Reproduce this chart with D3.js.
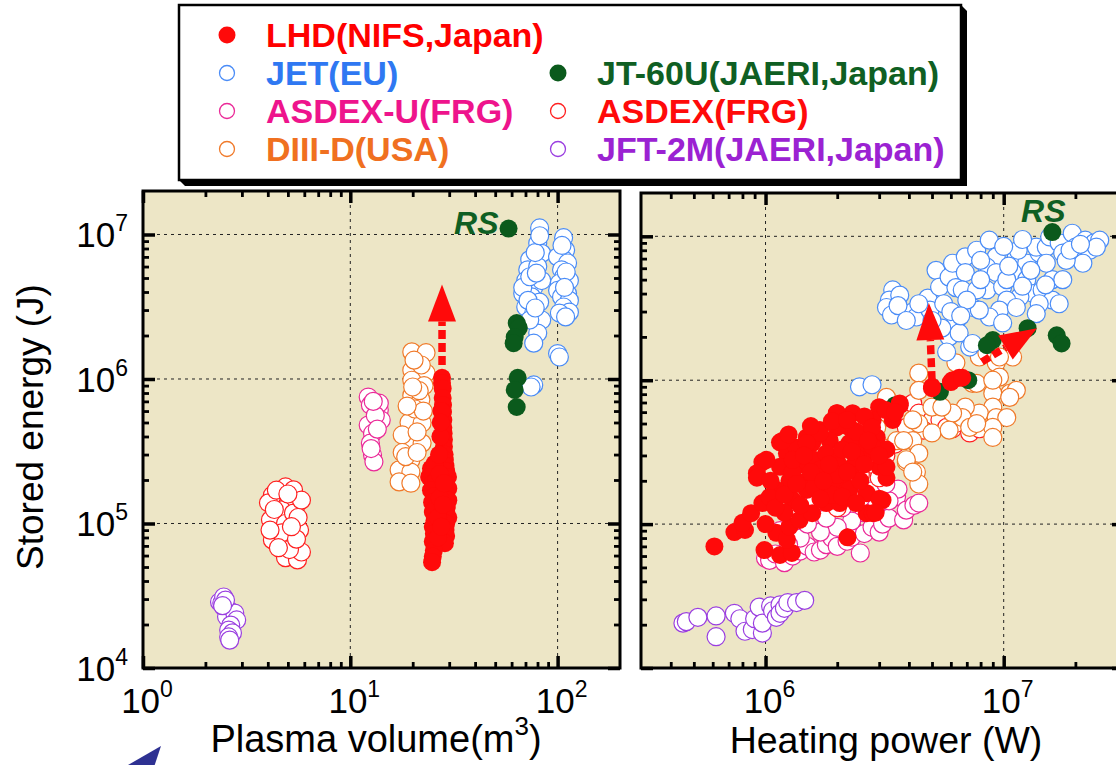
<!DOCTYPE html>
<html>
<head>
<meta charset="utf-8">
<script src="https://cdn.jsdelivr.net/npm/d3@7"></script>
<style>
  body { margin: 0; background: #fff; }
  svg { display: block; }
  text { font-family: "Liberation Sans", Arial, Helvetica, sans-serif; }
</style>
</head>
<body>
<svg id="chart" width="1116" height="765"></svg>
<script>
// ---------------- data ----------------
// Series names as listed in the legend
const seriesNames = ["LHD(NIFS,Japan)", "JET(EU)", "ASDEX-U(FRG)", "DIII-D(USA)",
                     "JT-60U(JAERI,Japan)", "ASDEX(FRG)", "JFT-2M(JAERI,Japan)"];

// Tick label exponents (powers of ten)
const volumeTickExp = [0, 1, 2];
const powerTickExp = [6, 7];
const energyTickExp = [4, 5, 6, 7];

// Plasma volume (m^3) vs stored energy (J)
const jft2mVol = [[2.34,2.86e4],[2.40,2.82e4],[2.45,3.1e4],[2.45,2.64e4],[2.59,2.52e4],[2.53,2.26e4],[2.77,2.4e4],
  [2.83,2.15e4],[2.65,1.98e4],[2.59,1.83e4],[2.70,1.75e4],[2.59,1.64e4],[2.62,1.56e4],[2.50,2.95e4],[2.42,2.7e4]];
const asdexVol = [[4.21,1.57e5],[4.87,1.79e5],[5.09,1.52e5],[5.44,1.3e5],[4.66,1.24e5],[4.12,1.06e5],[4.87,1.0e5],
  [5.32,1.18e5],[4.21,7.7e4],[5.2,7.3e4],[4.87,5.8e4],[5.56,5.6e4],[5.81,6.35e4],[5.69,9.0e4],[5.32,1.71e5],
  [4.03,1.39e5],[5.81,1.45e5],[4.66,8.6e4],[5.09,6.6e4],[4.4,1.7e5],[5.0,1.6e5],[4.1,9e4],[5.6,1.1e5],
  [4.5,6.8e4],[5.5,7.8e4],[4.3,1.25e5],[5.2,9.5e4]];
const asdexuVol = [[12.2,7.5e5],[12.5,6.6e5],[13.8,6.1e5],[12.2,4.8e5],[12.8,4.2e5],[12.5,3.6e5],[12.8,2.98e5],
  [13.0,2.67e5],[13.8,6.8e5],[14.1,5.2e5],[13.2,5.6e5],[12.6,3.3e5],[13.5,4.5e5],[12.9,7.0e5]];
const diiidVol = [[19.8,1.54e6],[23.2,1.52e6],[19.8,1.15e6],[23.2,1.1e6],[19.8,9.8e5],[22.7,9.0e5],[19.8,7.7e5],
  [21.9,7.2e5],[19.2,5.0e5],[22.2,4.96e5],[19.2,3.66e5],[22.2,3.6e5],[17.8,4.1e5],[17.8,3.1e5],[19.6,2.75e5],
  [17.2,2.35e5],[19.6,2.27e5],[17.2,1.94e5],[19.6,1.9e5],[21.5,8.3e5],[20.5,6.2e5],[22.5,6.0e5],[18.8,6.5e5],
  [21.0,4.3e5],[20.0,8.8e5],[22.0,1.25e6],[18.5,2.9e5],[21.0,3.1e5],[20.3,1.35e6]];
const jetVol = [[81.9,1.11e7],[80.2,8.7e6],[83.8,7.4e6],[73.4,6.7e6],[71.8,5.7e6],[80.2,6.0e6],[70.2,4.8e6],
  [76.7,4.3e6],[83.8,4.8e6],[67.9,3.9e6],[75.0,3.7e6],[70.2,3.15e6],[81.9,3.4e6],[76.7,2.86e6],[83.8,2.56e6],
  [80.2,2.08e6],[76.7,1.77e6],[73.4,2.56e6],[67.9,4.3e6],[73.4,5.1e6],[76.7,9.1e5],[74.5,8.8e5],[78,7.5e6],
  [79,5.4e6],[72,3.5e6],[78,3.1e6],[82,9.8e6],
  [106.9,9.5e6],[109.3,7.8e6],[106.9,6.7e6],[100,7.0e6],[111.7,6.35e6],[104.5,5.7e6],[106.9,5.1e6],[114,4.8e6],
  [102,4.6e6],[100,4.1e6],[111.7,3.9e6],[104.5,3.7e6],[114,3.5e6],[106.9,3.15e6],[114,2.9e6],[102,2.86e6],
  [109.3,2.69e6],[100,1.5e6],[102,1.42e6],[110,5.5e6],[108,4.3e6],[105,8.4e6]];
const jt60uVol = [[58,1.1e7],[63.5,2.44e6],[65,2.26e6],[62.1,1.95e6],[61.4,1.77e6],[64.2,1.02e6],[62.1,8.4e5],[63.5,6.4e5]];
const lhdVol = [[27.7,1.02e6],[27.7,9.4e5],[27.9,8.6e5],[27.9,7.4e5],[28.0,6.6e5],[28.0,5.9e5],[28.1,5.2e5],
  [28.1,4.6e5],[28.2,4.2e5],[28.3,3.8e5],[28.3,3.4e5],[28.5,3.0e5],[28.6,2.75e5],[28.8,2.5e5],[29.0,2.3e5],
  [29.6,2.1e5],[29.0,1.9e5],[29.7,1.75e5],[29.0,1.6e5],[29.7,1.45e5],[29.2,1.3e5],[29.0,1.18e5],[29.7,1.1e5],
  [29.0,1.0e5],[28.8,9.0e4],[29.0,8.2e4],[28.6,7.3e4],[24.5,2.4e5],[25.5,2.6e5],[24.0,2.1e5],[25.0,1.9e5],
  [26.0,2.0e5],[24.5,1.7e5],[25.5,1.55e5],[24.8,1.4e5],[26.0,1.3e5],[25.0,1.2e5],[25.5,1.05e5],[25.0,9.5e4],
  [25.3,8.5e4],[25.0,7.5e4],[25.3,6.5e4],[25.0,5.9e4],[24.8,5.4e4],[26.5,8.0e4],[27.0,1.5e5],[27.0,2.2e5],
  [26.8,3.0e5],[27.2,4.0e5],[27.5,6.0e5],[27.3,5.0e5],[26.5,1.1e5],[27.5,9.5e4],[28.0,1.35e5],[28.3,1.9e5]];

// Heating power (W) vs stored energy (J)
const jft2mPow = [[4.5e5,2.05e4],[4.65e5,2.1e4],[5.2e5,2.25e4],[6.2e5,2.3e4],[6.2e5,1.65e4],[7.4e5,2.4e4],
  [7.8e5,2.2e4],[8.2e5,1.8e4],[8.8e5,1.85e4],[9.0e5,2.2e4],[9.4e5,2.65e4],[9.7e5,1.75e4],[9.7e5,2.05e4],
  [1.05e6,2.7e4],[1.07e6,2.5e4],[1.11e6,2.25e4],[1.15e6,2.75e4],[1.15e6,2.4e4],[1.2e6,2.6e4],[1.24e6,2.85e4],
  [1.35e6,2.85e4],[1.46e6,2.95e4]];
const asdexuPow = [[1.0e6,5.8e4],[1.04e6,5.6e4],[1.1e6,6.2e4],[1.2e6,5.4e4],[1.3e6,6.0e4],[1.4e6,6.5e4],
  [1.5e6,7.0e4],[1.6e6,6.4e4],[1.7e6,6.6e4],[1.8e6,7.2e4],[1.9e6,8.0e4],[2.0e6,7.0e4],[2.2e6,7.6e4],[2.3e6,8.1e4],
  [2.5e6,6.3e4],[2.6e6,8.6e4],[2.8e6,9.5e4],[3.0e6,8.8e4],[3.1e6,1.0e5],[3.3e6,1.1e5],[3.55e6,1.55e5],
  [3.8e6,1.07e5],[3.9e6,1.25e5],[4.2e6,1.35e5],[4.4e6,1.4e5],[3.6e6,1.75e5],[3.3e6,1.45e5],[2.9e6,1.3e5],
  [2.6e6,1.2e5],[2.3e6,1.05e5],[2.0e6,9.5e4],[1.7e6,8.8e4],[1.4e6,8.0e4],[1.25e6,7.2e4],[1.5e6,1.0e5],
  [1.8e6,1.1e5],[2.1e6,1.3e5],[2.5e6,1.5e5],[2.8e6,1.7e5],[3.2e6,1.9e5],[1.3e6,1.2e5],[1.6e6,1.4e5],
  [2.0e6,1.7e5],[2.4e6,2.0e5],[1.15e6,9e4]];
const asdexPow = [[4.15e6,6.9e5],[4.4e6,5.9e5],[5.0e6,5.3e5],[5.4e6,5.3e5],[5.76e6,4.7e5],[6.1e6,4.6e5],
  [6.3e6,5.0e5],[7.2e6,4.3e5],[7.9e6,4.6e5],[3.9e6,4.7e5],[4.6e6,4.5e5],[3.5e6,3.6e5],[3.2e6,3.0e5],
  [2.8e6,2.6e5],[2.5e6,2.2e5],[2.2e6,1.9e5],[3.0e6,2.1e5],[1.8e6,1.6e5],[2.0e6,1.3e5]];
const diiidPow = [[4.4e6,1.12e6],[6.3e6,1.32e6],[7.9e6,1.45e6],[8.5e6,1.55e6],[9.3e6,1.32e6],[9.6e6,1.05e6],
  [1.06e7,8.1e5],[9.0e6,8.1e5],[7.4e6,9.5e5],[9.0e6,6.5e5],[7.9e6,5.9e5],[9.3e6,5.5e5],[1.03e7,5.5e5],
  [6.9e6,6.5e5],[6.7e6,5.5e5],[7.2e6,4.7e5],[9.0e6,4.7e5],[9.0e6,4.0e5],[7.7e6,5.0e5],[6.1e6,5.9e5],
  [5.0e6,6.5e5],[5.5e6,6.5e5],[4.4e6,5.0e5],[5.0e6,4.3e5],[5.9e6,4.5e5],[4.15e6,3.8e5],[3.55e6,3.8e5],
  [4.4e6,3.1e5],[3.9e6,2.7e5],[4.3e6,2.3e5],[4.4e6,1.9e5],[3.1e6,3.4e5],[3.22e6,5.9e5],[3.22e6,7.6e5],
  [4.4e6,8.5e5],[1.09e7,1.45e6],[9.6e6,1.45e6],[1.13e7,8.5e5],[1.06e7,7.6e5],[7.7e6,9.5e5],[4.15e6,5.3e5],
  [3.8e6,3.8e5],[3.9e6,2.8e5],[4.15e6,2.3e5],[9.0e6,1.0e6],[2.93e6,4.7e5],[2.66e6,4.2e5]];
const jetPow = [[3.42e6,4.24e6],[3.31e6,3.6e6],[3.22e6,3.2e6],[3.38e6,2.84e6],[3.66e6,3.9e6],[4.15e6,2.98e6],
  [4.3e6,2.75e6],[4.8e6,3.72e6],[5.2e6,5.8e6],[5.38e6,4.44e6],[5.9e6,5.2e6],[6.1e6,6.5e6],[6.3e6,4.4e6],
  [6.9e6,7.2e6],[7.7e6,8.0e6],[6.9e6,5.6e6],[6.7e6,4.24e6],[7.4e6,3.2e6],[6.3e6,2.5e6],[5.9e6,2.0e6],
  [5.76e6,1.57e6],[7.2e6,1.7e6],[8.7e6,9.4e6],[9.3e6,7.2e6],[8.5e6,6.1e6],[8.5e6,4.24e6],[9.3e6,5.6e6],
  [9.9e6,4.44e6],[1.13e7,7.2e6],[1.25e7,6.5e6],[1.09e7,5.6e6],[1.25e7,5.0e6],[1.33e7,4.0e6],[1.17e7,3.8e6],
  [1.03e7,3.6e6],[9.6e6,3.07e6],[1.13e7,3.2e6],[8.7e6,2.75e6],[7.9e6,3.07e6],[1.41e7,7.65e6],[1.37e7,8.4e6],
  [1.51e7,8.4e6],[1.56e7,9.9e6],[1.71e7,9.0e6],[1.77e7,7.65e6],[1.94e7,1.05e7],[2.0e7,8.4e6],[2.2e7,9.4e6],
  [2.4e7,9.0e6],[2.3e7,8.0e6],[2.15e7,6.5e6],[1.83e7,6.8e6],[1.6e7,5.0e6],[1.77e7,5.0e6],[1.45e7,4.24e6],
  [1.6e7,3.6e6],[1.71e7,3.4e6],[1.41e7,3.4e6],[1.37e7,2.9e6],[1.03e7,5.0e6],[7.7e6,4.24e6],[9.9e6,2.5e6],
  [6.5e6,2.13e6],[2.48e6,9.0e5],[2.8e6,9.3e5],[5.5e6,2.3e6],[7.4e6,1.8e6],[4.9e6,3.07e6],[1.51e7,6.5e6],
  [2.53e7,9.4e6],[2.45e7,8.4e6],
  [5.6e6,3.4e6],[6.0e6,3.0e6],[7.0e6,3.6e6],[8.0e6,5.0e6],[8.0e6,6.8e6],[1.05e7,6.2e6],[1.2e7,4.5e6],
  [1.15e7,8.0e6],[1.3e7,5.8e6],[4.4e6,3.4e6],[5.0e6,2.6e6],[6.6e6,2.8e6],[1.5e7,4.6e6],[1.9e7,8.0e6],
  [2.1e7,8.8e6],[1.0e7,8.5e6],[1.2e7,9.5e6],[3.6e6,3.3e6],[3.9e6,2.6e6]];
const jt60uPow = [[1.6e7,1.07e7],[1.26e7,2.3e6],[9.0e6,1.9e6],[8.5e6,1.75e6],[1.67e7,2.05e6],[1.75e7,1.8e6],
  [7.1e6,1.0e6],[5.4e6,8.3e5],[3.5e6,6.7e5]];
const lhdPow = [[5.0e6,9.0e5],[6.0e6,9.7e5],[6.5e6,1.04e6],[3.66e6,6.7e5],[3.0e6,6.5e5],[2.32e6,5.9e5],
  [2.0e6,5.9e5],[2.82e6,5.3e5],[3.42e6,5.3e5],[2.25e6,4.7e5],[1.99e6,4.7e5],[1.69e6,4.5e5],[1.49e6,4.0e5],
  [1.15e6,3.7e5],[9.7e5,2.7e5],[9.2e5,2.26e5],[1.23e6,3.1e5],[1.35e6,3.4e5],[1.57e6,3.66e5],[1.86e6,3.8e5],
  [2.48e6,3.8e5],[2.93e6,4.0e5],[3.22e6,3.3e5],[2.66e6,3.1e5],[3.01e6,2.5e5],[3.22e6,2.1e5],[2.32e6,2.5e5],
  [1.8e6,2.26e5],[1.49e6,2.0e5],[1.26e6,2.0e5],[1.15e6,2.5e5],[2.19e6,1.8e5],[2.66e6,1.64e5],[1.69e6,1.64e5],
  [6.1e5,7.0e4],[7.4e5,8.8e4],[8.2e5,9.1e4],[8.0e5,1.02e5],[8.7e5,1.19e5],[9.7e5,1.4e5],[9.9e5,6.6e4],
  [1.11e6,8.7e4],[1.15e6,6.1e4],[1.29e6,6.3e4],[1.23e6,7.8e4],[1.26e6,9.6e4],[1.39e6,1.07e5],[1.57e6,1.19e5],
  [1.8e6,1.4e5],[2.05e6,1.4e5],[2.25e6,1.73e5],[2.21e6,8.1e4],[2.66e6,1.19e5],[2.82e6,1.19e5],[3.1e6,1.47e5],
  [1.91e6,2.0e5],[1.49e6,1.73e5],[1.11e6,1.73e5],[9.2e5,2.1e5],[1.04e6,1.54e5],[1.3e6,1.47e5],[1.18e6,3.8e5],
  [1.99e6,5.9e5],[3.66e6,6.9e5],[3.42e6,5.9e5],[1.69e6,4.3e5],[1.49e6,3.66e5],[1.01e6,2.8e5],[2.66e6,4.3e5],
  [2.25e6,3.66e5],[3.22e6,2.5e5],[5.0e6,8.8e5],[6.1e6,1.0e6],[6.7e6,1.04e6],[3.01e6,1.5e5],[2.9e6,1.2e5],
  [1.6e6,2.8e5],[1.8e6,3.1e5],[2.0e6,2.7e5],[2.1e6,3.3e5],[1.4e6,2.6e5],[1.3e6,2.3e5],[1.7e6,2.4e5],
  [2.4e6,2.9e5],[2.0e6,2.2e5],[1.6e6,1.8e5],[1.9e6,1.6e5],[2.5e6,2.0e5],[1.2e6,1.2e5],[1.0e6,1.0e5],
  [1.1e6,1.3e5],[1.4e6,1.35e5],[3.2e6,6.2e5],[2.6e6,5.6e5],[3.5e6,6.0e5],[2.4e6,4.4e5],[2.8e6,4.7e5],
  [1.3e6,2.8e5],[1.45e6,3.0e5],[1.55e6,2.3e5],[1.75e6,2.0e5],[1.85e6,2.6e5],[2.2e6,2.3e5],[2.3e6,3.2e5],
  [2.6e6,2.6e5],[2.8e6,3.5e5],[1.2e6,1.6e5],[1.35e6,1.9e5],[1.7e6,1.5e5],[2.1e6,1.55e5],[2.4e6,1.4e5],
  [1.05e6,2.0e5],[1.25e6,4.2e5],[1.55e6,4.8e5],[1.9e6,5.2e5],[2.2e6,5.3e5],[2.7e6,3.8e5],[3.0e6,3.0e5]];

// LHD improvement arrows: [start, tip] in data units
const lhdVolArrows = [[[27.7,1.25e6],[27.7,4.5e6]]];
const lhdPowArrows = [[[5.0e6,1.0e6],[4.85e6,3.44e6]], [[8.1e6,1.34e6],[1.38e7,2.3e6]]];

// ---------------- styles & layout ----------------
const style = {
  "LHD(NIFS,Japan)":      {color: "#ff0a0a", filled: true,  text: "#ff0000"},
  "JET(EU)":              {color: "#4a8cf7", filled: false, text: "#2f78f2"},
  "ASDEX-U(FRG)":         {color: "#ea2a98", filled: false, text: "#ee148c"},
  "DIII-D(USA)":          {color: "#f07a2a", filled: false, text: "#f07020"},
  "JT-60U(JAERI,Japan)":  {color: "#0b5a1c", filled: true,  text: "#0f5f23"},
  "ASDEX(FRG)":           {color: "#ff2020", filled: false, text: "#ff0a0a"},
  "JFT-2M(JAERI,Japan)":  {color: "#9a3ee0", filled: false, text: "#9b22d2"}
};
const PLOT_BG = "#ede6c6";
const R = 9;

const svg = d3.select("#chart");

function minorTicks(domain) {
  const out = [];
  const e0 = Math.floor(Math.log10(domain[0])), e1 = Math.ceil(Math.log10(domain[1]));
  for (let e = e0; e <= e1; e++)
    for (let m = 2; m <= 9; m++) {
      const v = m * Math.pow(10, e);
      if (v > domain[0] * 1.001 && v < domain[1] * 0.999) out.push(v);
    }
  return out;
}

function powLabel(g, x, y, exp, anchor) {
  const t = g.append("text").attr("x", x).attr("y", y)
    .attr("text-anchor", anchor).attr("font-size", 35).attr("fill", "#000");
  t.append("tspan").text("10");
  t.append("tspan").attr("font-size", 23).attr("dy", -16).text(exp);
}

function drawPanel(cfg) {
  const x = d3.scaleLog().domain(cfg.xDomain).range([cfg.x0, cfg.x1]);
  const y = d3.scaleLog().domain([1e4, 2e7]).range([cfg.y1, cfg.y0]);
  const g = svg.append("g");
  const w = cfg.x1 - cfg.x0, h = cfg.y1 - cfg.y0;

  g.append("rect").attr("x", cfg.x0).attr("y", cfg.y0).attr("width", w).attr("height", h)
    .attr("fill", PLOT_BG);

  const clipId = "clip" + cfg.id;
  svg.append("clipPath").attr("id", clipId).append("rect")
    .attr("x", cfg.x0).attr("y", cfg.y0).attr("width", w).attr("height", h);

  // decade grid
  const grid = g.append("g").attr("stroke", "#222").attr("stroke-width", 1)
    .attr("stroke-dasharray", "3,4").attr("fill", "none");
  cfg.xMajor.filter(v => x(v) > cfg.x0 + 2 && x(v) < cfg.x1 - 2).forEach(v =>
    grid.append("line").attr("x1", x(v)).attr("x2", x(v)).attr("y1", cfg.y0).attr("y2", cfg.y1));
  [1e5, 1e6, 1e7].forEach(v =>
    grid.append("line").attr("x1", cfg.x0).attr("x2", cfg.x1).attr("y1", y(v)).attr("y2", y(v)));

  // data points
  const pts = g.append("g").attr("clip-path", `url(#${clipId})`);
  cfg.series.forEach(([name, data]) => {
    const s = style[name];
    pts.append("g").selectAll("circle").data(data).join("circle")
      .attr("cx", d => x(d[0])).attr("cy", d => y(d[1])).attr("r", R)
      .attr("fill", s.filled ? s.color : "#fff")
      .attr("stroke", s.color).attr("stroke-width", s.filled ? 0 : 1.2);
  });

  // dashed arrows
  cfg.arrows.forEach(([p0, p1]) => {
    const ax = x(p0[0]), ay = y(p0[1]), bx = x(p1[0]), by = y(p1[1]);
    const len = Math.hypot(bx - ax, by - ay);
    const ux = (bx - ax) / len, uy = (by - ay) / len;
    const headLen = 37, hw = 14;
    const cx = bx - ux * headLen, cy = by - uy * headLen;
    pts.append("line").attr("x1", ax).attr("y1", ay).attr("x2", cx).attr("y2", cy)
      .attr("stroke", "#ff0a0a").attr("stroke-width", 7.5).attr("stroke-dasharray", "9,4");
    pts.append("polygon")
      .attr("points", [[bx, by], [cx - uy * hw, cy + ux * hw], [cx + uy * hw, cy - ux * hw]].map(p => p.join(",")).join(" "))
      .attr("fill", "#ff0a0a");
  });

  // "RS" marker label
  if (cfg.rs) {
    const [rx, ry] = [x(cfg.rs.point[0]), y(cfg.rs.point[1])];
    g.append("text").attr("x", rx + cfg.rs.dx).attr("y", ry + cfg.rs.dy)
      .attr("text-anchor", cfg.rs.anchor).attr("font-size", 32)
      .attr("font-weight", "bold").attr("font-style", "italic")
      .attr("fill", "#0f5f23").text("RS");
  }

  // frame
  g.append("rect").attr("x", cfg.x0).attr("y", cfg.y0).attr("width", w).attr("height", h)
    .attr("fill", "none").attr("stroke", "#000").attr("stroke-width", 3);

  // inward ticks on all four sides
  function ticks(axisFn, scale, values, size, sw, tx, ty) {
    const a = axisFn(scale).tickValues(values).tickSize(-size).tickFormat("");
    const sel = g.append("g").attr("transform", `translate(${tx},${ty})`).call(a);
    sel.select(".domain").remove();
    sel.selectAll("line").attr("stroke", "#000").attr("stroke-width", sw);
  }
  const xMinor = minorTicks(cfg.xDomain), yMinor = minorTicks([1e4, 2e7]);
  const yMajor = [1e4, 1e5, 1e6, 1e7];
  ticks(d3.axisBottom, x, cfg.xMajor, 12, 3.5, 0, cfg.y1);
  ticks(d3.axisTop, x, cfg.xMajor, 12, 3.5, 0, cfg.y0);
  ticks(d3.axisBottom, x, xMinor, 6, 2.8, 0, cfg.y1);
  ticks(d3.axisTop, x, xMinor, 6, 2.8, 0, cfg.y0);
  ticks(d3.axisLeft, y, yMajor, 12, 3.5, cfg.x0, 0);
  ticks(d3.axisRight, y, yMajor, 12, 3.5, cfg.x1, 0);
  ticks(d3.axisLeft, y, yMinor, 6, 2.8, cfg.x0, 0);
  ticks(d3.axisRight, y, yMinor, 6, 2.8, cfg.x1, 0);

  // tick labels
  cfg.xLabelExp.forEach(e => powLabel(g, x(Math.pow(10, e)) + 4, 713, e, "middle"));
  if (cfg.yLabels) energyTickExp.forEach(e => powLabel(g, cfg.x0 - 15, y(Math.pow(10, e)) + 13, e, "end"));
}

// ---------------- legend ----------------
const legend = svg.append("g");
const LB = {x: 179, y: 5, w: 782, h: 175, s: 6};
legend.append("polygon")
  .attr("points", [[LB.x, LB.y + LB.h], [LB.x + LB.s, LB.y + LB.h + LB.s], [LB.x + LB.w + LB.s, LB.y + LB.h + LB.s],
                   [LB.x + LB.w + LB.s, LB.y + LB.s], [LB.x + LB.w, LB.y]].map(p => p.join(",")).join(" "))
  .attr("fill", "#000");
legend.append("rect").attr("x", LB.x).attr("y", LB.y).attr("width", LB.w).attr("height", LB.h)
  .attr("fill", "#fff").attr("stroke", "#000").attr("stroke-width", 2.5);

const legendSlots = [[0, 0], [0, 1], [0, 2], [0, 3], [1, 1], [1, 2], [1, 3]];
const colX = [227, 558], rowY = [35, 73, 111, 149];
seriesNames.forEach((name, i) => {
  const [c, r] = legendSlots[i];
  const s = style[name];
  legend.append("circle").attr("cx", colX[c]).attr("cy", rowY[r]).attr("r", s.filled ? 8.5 : 7.5)
    .attr("fill", s.filled ? s.color : "#fff").attr("stroke", s.color).attr("stroke-width", s.filled ? 0 : 1.3);
  legend.append("text").attr("x", colX[c] + 39).attr("y", rowY[r] + 12)
    .attr("font-size", 34).attr("font-weight", "bold").attr("fill", s.text).text(name);
});

// ---------------- panels ----------------
drawPanel({
  id: "vol", x0: 143, x1: 620, y0: 191, y1: 668, xDomain: [1, 200], xMajor: [1, 10, 100],
  xLabelExp: volumeTickExp, yLabels: true,
  series: [["JFT-2M(JAERI,Japan)", jft2mVol], ["ASDEX-U(FRG)", asdexuVol], ["ASDEX(FRG)", asdexVol],
           ["DIII-D(USA)", diiidVol], ["JET(EU)", jetVol], ["JT-60U(JAERI,Japan)", jt60uVol], ["LHD(NIFS,Japan)", lhdVol]],
  arrows: lhdVolArrows,
  rs: {point: jt60uVol[0], dx: -10, dy: 5, anchor: "end"}
});
drawPanel({
  id: "pow", x0: 641, x1: 1124, y0: 193, y1: 668, xDomain: [3e5, 3.2e7], xMajor: [1e6, 1e7],
  xLabelExp: powerTickExp, yLabels: false,
  series: [["JFT-2M(JAERI,Japan)", jft2mPow], ["ASDEX-U(FRG)", asdexuPow], ["ASDEX(FRG)", asdexPow],
           ["DIII-D(USA)", diiidPow], ["JET(EU)", jetPow], ["JT-60U(JAERI,Japan)", jt60uPow], ["LHD(NIFS,Japan)", lhdPow]],
  arrows: lhdPowArrows,
  rs: {point: jt60uPow[0], dx: -9, dy: -10, anchor: "middle"}
});

// ---------------- axis titles ----------------
svg.append("text").attr("transform", "translate(43,427) rotate(-90)")
  .attr("text-anchor", "middle").attr("font-size", 37).text("Stored energy (J)");
const xt = svg.append("text").attr("x", 376).attr("y", 752).attr("text-anchor", "middle").attr("font-size", 38);
xt.append("tspan").text("Plasma volume(m");
xt.append("tspan").attr("font-size", 26).attr("dy", -17).text("3");
xt.append("tspan").attr("dy", 17).text(")");
svg.append("text").attr("x", 886).attr("y", 753).attr("text-anchor", "middle").attr("font-size", 37.5)
  .text("Heating power (W)");

// ---------------- pointer arrow in the lower-left corner ----------------
(function () {
  const tip = [161, 746], d = [0.632, -0.775], n = [0.775, 0.632], L = 42, hw = 16;
  const bx = tip[0] - d[0] * L, by = tip[1] - d[1] * L;
  svg.append("polygon")
    .attr("points", [tip, [bx - n[0] * hw, by - n[1] * hw], [bx - d[0] * 8, by - d[1] * 8], [bx + n[0] * hw, by + n[1] * hw]]
      .map(p => p.join(",")).join(" "))
    .attr("fill", "#2e3192");
})();
</script>
</body>
</html>
